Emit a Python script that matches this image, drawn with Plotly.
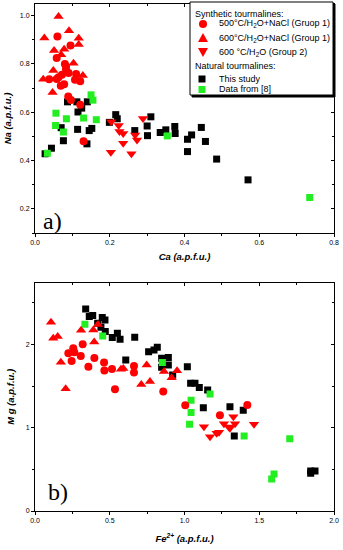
import plotly.graph_objects as go

# ---------- Panel a) Na vs Ca ----------
a_c500_x = [0.060,0.095,0.058,0.080,0.083,0.083,0.090,0.110,0.072,0.038,0.063,0.107,0.121,0.058,0.078,0.069,0.089,0.096,0.121,0.130]
a_c500_y = [0.913,0.876,0.824,0.800,0.789,0.776,0.762,0.758,0.755,0.737,0.745,0.734,0.728,0.738,0.716,0.710,0.665,0.651,0.631,0.480]
a_t600_x = [0.025,0.063,0.091,0.117,0.117,0.051,0.078,0.070,0.103,0.049,0.128,0.022,0.047]
a_t600_y = [0.907,0.996,0.937,0.906,0.880,0.855,0.861,0.838,0.803,0.773,0.752,0.737,0.682]
a_i600_x = [0.289,0.204,0.224,0.226,0.236,0.268,0.273,0.236,0.203,0.258]
a_i600_y = [0.574,0.561,0.545,0.520,0.512,0.506,0.485,0.472,0.434,0.428]
a_blk_x = [0.087,0.112,0.140,0.125,0.115,0.070,0.114,0.145,0.152,0.076,0.139,0.044,0.027,0.199,0.216,0.220,0.310,0.300,0.267,0.301,0.335,0.350,0.374,0.375,0.445,0.419,0.408,0.456,0.408,0.486,0.570]
a_blk_y = [0.643,0.643,0.643,0.617,0.601,0.536,0.529,0.524,0.533,0.482,0.469,0.451,0.428,0.558,0.590,0.573,0.581,0.543,0.524,0.503,0.516,0.527,0.541,0.512,0.537,0.506,0.488,0.479,0.437,0.406,0.320]
a_grn_x = [0.150,0.155,0.056,0.084,0.130,0.164,0.055,0.076,0.033,0.354,0.735]
a_grn_y = [0.672,0.650,0.596,0.573,0.576,0.569,0.545,0.518,0.430,0.502,0.247]

# ---------- Panel b) Mg vs Fe2+ ----------
b_c500_x = [0.223,0.256,0.263,0.319,0.306,0.245,0.357,0.397,0.462,0.464,0.515,0.662,0.662,0.535,0.858,1.005,1.237,1.420]
b_c500_y = [1.893,1.953,1.905,2.001,1.861,1.801,1.732,1.837,1.781,1.685,1.705,1.741,1.661,1.461,1.433,1.270,1.149,1.273]
b_t600_x = [0.107,0.122,0.152,0.173,0.205,0.308,0.390,0.396,0.421,0.575,0.591,0.747,0.711,0.769,0.863,0.950,0.914]
b_t600_y = [2.265,2.073,2.093,1.785,1.468,2.169,2.173,2.029,2.237,1.701,1.709,1.753,1.519,1.553,1.673,1.683,1.599]
b_i600_x = [1.130,1.171,1.215,1.231,1.264,1.296,1.304,1.327,1.338,1.465]
b_i600_y = [1.012,0.892,0.932,0.944,1.048,1.008,0.992,1.132,1.048,1.042]
b_blk_x = [0.339,0.363,0.386,0.450,0.468,0.419,0.441,0.470,0.517,0.551,0.569,0.667,0.607,0.760,0.796,0.818,0.847,0.892,0.847,0.892,0.921,1.019,1.041,1.070,1.099,1.155,1.126,1.304,1.393,1.333,1.844,1.873,1.844]
b_blk_y = [2.425,2.333,2.345,2.321,2.293,2.253,2.205,2.153,2.081,2.133,2.061,2.085,1.813,1.912,1.933,1.965,1.833,1.841,1.725,1.753,1.633,1.732,1.533,1.533,1.482,1.453,1.239,1.252,1.208,0.900,0.480,0.480,0.452]
b_grn_x = [0.334,0.453,0.852,1.044,1.171,1.044,1.034,1.399,1.704,1.599,1.583]
b_grn_y = [2.241,2.101,1.781,1.329,1.405,1.181,1.042,0.900,0.868,0.444,0.384]

names = ["500°C/H<sub>2</sub>O+NaCl (Gruop 1)", "600°C/H<sub>2</sub>O+NaCl (Group 1)",
         "600 °C/H<sub>2</sub>O (Group 2)", "This study", "Data from [8]"]
headers = ["Synthetic tourmalines:", "Natural tourmalines:"]
RED, GRN, BLK = "#ff0000", "#22ee22", "#000000"

W, H = 343, 550
ML, MR, MT, MB = 35, 9, 4, 39
PW, PH = W - ML - MR, H - MT - MB

def px2paper(px, py):
    return (px - ML) / PW, (H - MB - py) / PH

fig = go.Figure()

def add_set(xa, ya, sets):
    for (x, y, name, sym, col, size) in sets:
        fig.add_trace(go.Scatter(
            x=x, y=y, mode="markers", name=name, xaxis=xa, yaxis=ya, showlegend=False,
            marker=dict(symbol=sym, color=col, size=size, line=dict(width=0)),
        ))

for xa, ya, d in [("x", "y", (a_blk_x, a_blk_y, a_grn_x, a_grn_y, a_c500_x, a_c500_y, a_t600_x, a_t600_y, a_i600_x, a_i600_y)),
                  ("x2", "y2", (b_blk_x, b_blk_y, b_grn_x, b_grn_y, b_c500_x, b_c500_y, b_t600_x, b_t600_y, b_i600_x, b_i600_y))]:
    add_set(xa, ya, [
        (d[0], d[1], names[3], "square", BLK, 7),
        (d[2], d[3], names[4], "square", GRN, 7),
        (d[4], d[5], names[0], "circle", RED, 8),
        (d[6], d[7], names[1], "triangle-up", RED, 9),
        (d[8], d[9], names[2], "triangle-down", RED, 9),
    ])

tickf = dict(family="Liberation Sans, Arial", size=7, color="black")
titf = dict(family="Liberation Sans, Arial", size=9.5, color="black")

def ax(rng, dtick, fmt, dom=None, anchor=None, title=None, standoff=6):
    d = dict(range=rng, dtick=dtick, tick0=0, tickformat=fmt, showgrid=False, zeroline=False,
             showline=True, linecolor="black", linewidth=1, mirror=True, automargin=False,
             ticks="outside", ticklen=3, tickcolor="black", tickfont=tickf,
             minor=dict(dtick=dtick / 2, ticks="outside", ticklen=2, tickcolor="black"))
    if dom is not None:
        d["domain"] = dom
    if anchor:
        d["anchor"] = anchor
    if title:
        d["title"] = dict(text=title, font=titf, standoff=standoff)
    return d

def mirror_ax(rng, dtick, overlay, side, anchor):
    return dict(range=rng, dtick=dtick, tick0=0, overlaying=overlay, side=side, anchor=anchor,
                showticklabels=False, showgrid=False, zeroline=False, showline=False, automargin=False,
                ticks="inside", ticklen=3, tickcolor="black",
                minor=dict(dtick=dtick / 2, ticks="inside", ticklen=2, tickcolor="black"))

top_dom = [(H - MB - 233) / PH, 1.0]
bot_dom = [0.0, (H - MB - 282.7) / PH]
xr1, yr1 = [0, 0.8], [0.1, 1.048]
xr2, yr2 = [0, 2.0], [0, 2.74]

# ----- legend drawn with shapes + annotations -----
shapes, annos = [], []
bx0, bx1, by0, by1 = 190, 333, 2, 95
for off, fill in [(2, "black"), (0, "white")]:
    x0, y0 = px2paper(bx0 + off, by1 + off)
    x1, y1 = px2paper(bx1 + off, by0 + off)
    shapes.append(dict(type="rect", xref="paper", yref="paper", x0=x0, x1=x1, y0=y0, y1=y1,
                       fillcolor=fill, line=dict(color="black", width=1), layer="above"))

leg_font = dict(family="Liberation Sans, Arial", size=9, color="black")
for txt, py in [(headers[0], 14), (headers[1], 66.5)]:
    x, y = px2paper(192.5, py)
    annos.append(dict(text=txt, x=x, y=y, xref="paper", yref="paper", showarrow=False,
                      xanchor="left", yanchor="middle", font=leg_font))

leg_rows = [(names[0], "circle", RED, 24, 203), (names[1], "tri_up", RED, 38, 203),
            (names[2], "tri_dn", RED, 52, 203), (names[3], "square", BLK, 79, 202),
            (names[4], "square", GRN, 89.5, 202)]
for txt, sym, col, py, mx in leg_rows:
    x, y = px2paper(217, py)
    annos.append(dict(text=txt, x=x, y=y, xref="paper", yref="paper", showarrow=False,
                      xanchor="left", yanchor="middle", font=leg_font))
    ax_, ay_ = px2paper(mx, py)
    base = dict(xref="paper", yref="paper", xsizemode="pixel", ysizemode="pixel",
                xanchor=ax_, yanchor=ay_, fillcolor=col, line=dict(width=0), layer="above")
    if sym == "circle":
        shapes.append(dict(type="circle", x0=-4, x1=4, y0=-4, y1=4, **base))
    elif sym == "square":
        shapes.append(dict(type="rect", x0=-3.5, x1=3.5, y0=-3.5, y1=3.5, **base))
    elif sym == "tri_up":
        shapes.append(dict(type="path", path="M-5,-4 L5,-4 L0,5 Z", **base))
    else:
        shapes.append(dict(type="path", path="M-5,4 L5,4 L0,-5 Z", **base))

xa_, ya_ = px2paper(52, 221)
annos.append(dict(text="a)", x=xa_, y=ya_, xref="paper", yref="paper", showarrow=False,
                  xanchor="center", yanchor="middle", font=dict(family="Liberation Serif, Times New Roman", size=24)))
xb_, yb_ = px2paper(58, 492)
annos.append(dict(text="b)", x=xb_, y=yb_, xref="paper", yref="paper", showarrow=False,
                  xanchor="center", yanchor="middle", font=dict(family="Liberation Serif, Times New Roman", size=24)))

fig.update_layout(
    width=W, height=H,
    margin=dict(l=ML, r=MR, t=MT, b=MB, autoexpand=False),
    paper_bgcolor="white", plot_bgcolor="white", showlegend=False,
    font=dict(family="Liberation Sans, Arial", color="black"),
    xaxis=ax(xr1, 0.2, ".1f", anchor="y", title="<b><i>Ca (a.p.f.u.)</i></b>", standoff=7),
    yaxis=ax(yr1, 0.2, ".1f", dom=top_dom, anchor="x", title="<b><i>Na (a.p.f.u.)</i></b>", standoff=6),
    xaxis2=ax(xr2, 0.5, ".1f", anchor="y2", title="<b><i>Fe<sup>2+</sup> (a.p.f.u.)</i></b>", standoff=11),
    yaxis2=ax(yr2, 1, "d", dom=bot_dom, anchor="x2", title="<b><i>M g (a.p.f.u.)</i></b>", standoff=9),
    xaxis3=mirror_ax(xr1, 0.2, "x", "top", "y"),
    yaxis3=mirror_ax(yr1, 0.2, "y", "right", "x"),
    xaxis4=mirror_ax(xr2, 0.5, "x2", "top", "y2"),
    yaxis4=mirror_ax(yr2, 1, "y2", "right", "x2"),
    shapes=shapes, annotations=annos,
)
# invisible traces to activate mirror axes
fig.add_trace(go.Scatter(x=[None], y=[None], xaxis="x3", yaxis="y3", showlegend=False))
fig.add_trace(go.Scatter(x=[None], y=[None], xaxis="x4", yaxis="y4", showlegend=False))

fig.write_html("out.html", config={"displayModeBar": False},
               post_script="document.body.style.margin='0';")
